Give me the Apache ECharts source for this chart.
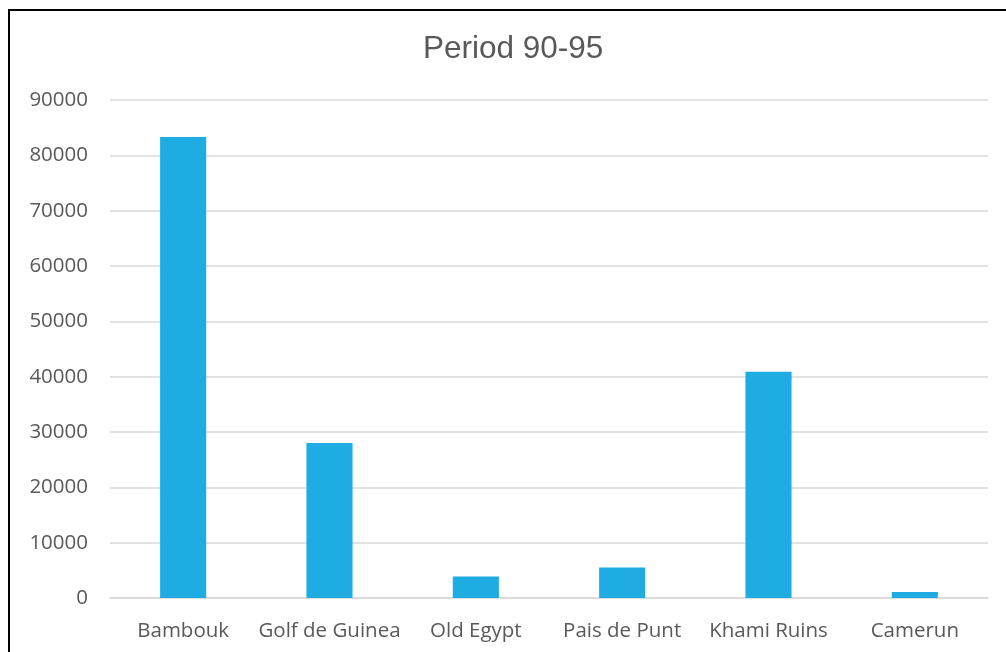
<!DOCTYPE html>
<html>
<head>
<meta charset="utf-8">
<script src="https://cdn.jsdelivr.net/npm/echarts@6/dist/echarts.min.js"></script>
<style>
html,body{margin:0;padding:0;background:#fff;overflow:hidden;}
#frame{position:absolute;left:8px;top:9px;width:1010px;height:660px;border:2px solid #000;box-sizing:border-box;}
#chart{position:absolute;left:0;top:0;width:1006px;height:652px;}
</style>
</head>
<body>
<div id="frame"></div>
<div id="chart"></div>
<script>
const titleText = 'Period 90-95';
const categories = ['Bambouk', 'Golf de Guinea', 'Old Egypt', 'Pais de Punt', 'Khami Ruins', 'Camerun'];
const values = [83300, 28000, 3900, 5500, 40900, 1100];
const yTicks = { min: 0, max: 90000, interval: 10000 };

const chart = echarts.init(document.getElementById('chart'), null, { renderer: 'canvas' });
chart.setOption({
  backgroundColor: 'transparent',
  animation: false,
  title: {
    text: titleText,
    left: 423,
    top: 33,
    padding: 0,
    textStyle: { fontFamily: '"Liberation Sans", Arial', fontSize: 31.5, fontWeight: 'normal', color: '#595959' }
  },
  grid: { left: 110, right: 18, top: 100, bottom: 54, containLabel: false },
  xAxis: {
    type: 'category',
    data: categories,
    axisLine: { lineStyle: { color: '#D9D9D9', width: 1.5 } },
    axisTick: { show: false },
    axisLabel: { interval: 0, fontFamily: '"Open Sans"', fontSize: 20.5, color: '#595959', margin: 23 }
  },
  yAxis: {
    type: 'value',
    min: yTicks.min,
    max: yTicks.max,
    interval: yTicks.interval,
    axisLine: { show: false },
    axisTick: { show: false },
    splitLine: { lineStyle: { color: '#D9D9D9', width: 1.5 } },
    axisLabel: { fontFamily: '"Open Sans"', fontSize: 20.5, color: '#595959', margin: 22, formatter: v => String(v) }
  },
  series: [{
    type: 'bar',
    data: values,
    barWidth: '31.5%',
    itemStyle: { color: '#1EACE3' }
  }]
});
</script>
</body>
</html>
